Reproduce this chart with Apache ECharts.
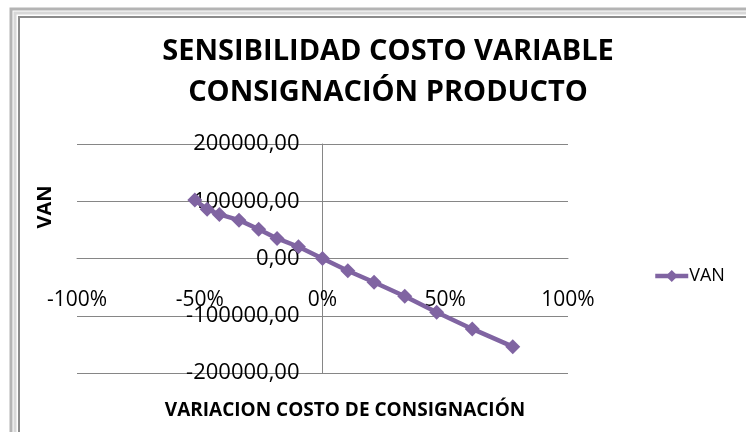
<!DOCTYPE html>
<html>
<head>
<meta charset="utf-8">
<script src="https://cdn.jsdelivr.net/npm/echarts@6/dist/echarts.min.js"></script>
<style>
  html, body { margin: 0; padding: 0; background: #fff; }
  #chart { width: 746px; height: 432px; }
</style>
</head>
<body>
<div id="chart"></div>
<script>
// variacion del costo (fraccion) y VAN
var variacion = [-0.52, -0.47, -0.42, -0.34, -0.26, -0.185, -0.098, 0, 0.103, 0.21, 0.335, 0.465, 0.61, 0.775]
var van = [102000, 86000, 77000, 67000, 51000, 35000, 20500, 0, -21500, -41500, -66000, -94000, -123000, -154000]
var xTicks = { min: -1, max: 1, step: 0.5 }
var yTicks = { min: -200000, max: 200000, step: 100000 }

var chart = echarts.init(document.getElementById('chart'))

var points = variacion.map(function (x, i) { return [x, van[i]] })

// plot area (px) - los ejes se cruzan en el cero
var plot = { left: 77, right: 568, top: 144, bottom: 373 }
var zeroX = plot.left + (0 - xTicks.min) / (xTicks.max - xTicks.min) * (plot.right - plot.left)
var zeroY = plot.bottom - (0 - yTicks.min) / (yTicks.max - yTicks.min) * (plot.bottom - plot.top)

chart.setOption({
  backgroundColor: '#fff',
  animation: false,
  title: {
    text: 'SENSIBILIDAD COSTO VARIABLE\nCONSIGNACIÓN PRODUCTO',
    left: 383,
    top: 26,
    textAlign: 'center',
    textStyle: {
      fontFamily: 'Open Sans',
      fontWeight: 'bold',
      fontSize: 29,
      lineHeight: 41,
      color: '#000'
    }
  },
  graphic: [
    { // marco del grafico
      type: 'rect',
      shape: { x: 11, y: 9, width: 800, height: 500 },
      style: { fill: 'none', stroke: '#b4b4b4', lineWidth: 3 },
      silent: true
    },
    {
      type: 'rect',
      shape: { x: 15, y: 13, width: 800, height: 500 },
      style: { fill: 'none', stroke: '#d8d8d8', lineWidth: 3 },
      silent: true
    },
    {
      type: 'rect',
      shape: { x: 19, y: 17, width: 800, height: 500 },
      style: { fill: 'none', stroke: '#8c8c8c', lineWidth: 2 },
      silent: true
    },
    { // titulo eje vertical
      type: 'text',
      x: 45,
      y: 207,
      rotation: Math.PI / 2,
      style: {
        text: 'VAN',
        font: 'bold 20px "Open Sans"',
        fill: '#000',
        align: 'center',
        verticalAlign: 'middle'
      }
    },
    { // titulo eje horizontal
      type: 'text',
      x: 345,
      y: 411,
      style: {
        text: 'VARIACION COSTO DE CONSIGNACIÓN',
        font: 'bold 19px "Open Sans"',
        fill: '#000',
        align: 'center',
        verticalAlign: 'middle'
      }
    }
  ],
  legend: {
    left: 648,
    top: 262,
    itemWidth: 33,
    itemHeight: 15,
    lineStyle: { width: 4.5 },
    textStyle: { fontFamily: 'Open Sans', fontSize: 18, color: '#000', padding: [0, 0, 0, -4] },
    data: [{ name: 'VAN', lineStyle: { width: 4.5 } }]
  },
  grid: {
    left: plot.left,
    right: 746 - plot.right,
    top: plot.top,
    bottom: 432 - plot.bottom,
    containLabel: false,
    outerBoundsMode: 'none'
  },
  xAxis: {
    type: 'value',
    min: xTicks.min,
    max: xTicks.max,
    interval: xTicks.step,
    offset: -(plot.bottom - zeroY),
    axisLine: { onZero: false, lineStyle: { color: '#868686', width: 1 } },
    axisTick: { show: false },
    splitLine: { show: false },
    axisLabel: {
      margin: 31,
      fontFamily: 'Open Sans',
      fontSize: 21,
      color: '#000',
      formatter: function (v) { return Math.round(v * 100) + '%' }
    }
  },
  yAxis: {
    type: 'value',
    min: yTicks.min,
    max: yTicks.max,
    interval: yTicks.step,
    offset: -(zeroX - plot.left),
    axisLine: { show: true, onZero: false, lineStyle: { color: '#868686', width: 1 } },
    axisTick: { show: false },
    splitLine: { show: true, lineStyle: { color: '#868686', width: 1 } },
    axisLabel: {
      margin: 23,
      fontFamily: 'Open Sans',
      fontSize: 22,
      color: '#000',
      formatter: function (v) { return v.toFixed(2).replace('.', ',') }
    }
  },
  series: [{
    name: 'VAN',
    type: 'line',
    data: points,
    symbol: 'diamond',
    symbolSize: 15,
    color: '#8064A2',
    lineStyle: { width: 4.5, color: '#8064A2' },
    itemStyle: { color: '#8064A2' }
  }]
})
</script>
</body>
</html>
